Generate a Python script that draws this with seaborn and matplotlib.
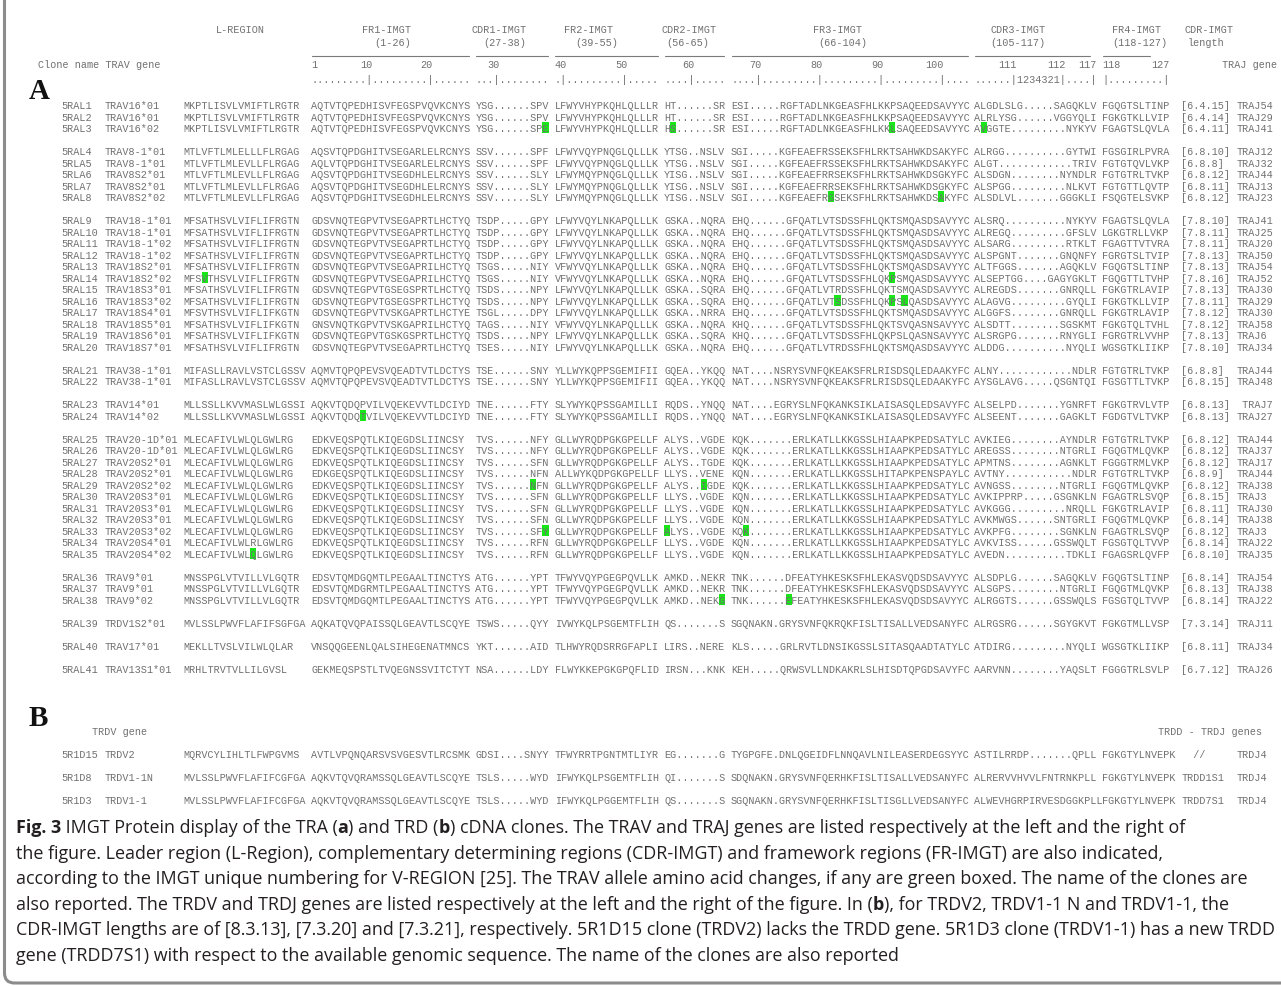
import numpy as np
import pandas as pd
import seaborn as sns
import matplotlib.pyplot as plt
from matplotlib.patches import Rectangle, FancyBboxPatch

# ---------------- data: section A (TRA clones) ----------------
clones_a = ["5RAL1", "5RAL2", "5RAL3", "5RAL4", "5RLA5", "5RLA6", "5RLA7", "5RAL8",
            "5RAL9", "5RAL10", "5RAL11", "5RAL12", "5RAL13", "5RAL14", "5RAL15", "5RAL16",
            "5RAL17", "5RAL18", "5RAL19", "5RAL20", "5RAL21", "5RAL22", "5RAL23", "5RAL24",
            "5RAL25", "5RAL26", "5RAL27", "5RAL28", "5RAL29", "5RAL30", "5RAL31", "5RAL32",
            "5RAL33", "5RAL34", "5RAL35", "5RAL36", "5RAL37", "5RAL38", "5RAL39", "5RAL40",
            "5RAL41"]
trav = ["TRAV16*01", "TRAV16*01", "TRAV16*02", "TRAV8-1*01", "TRAV8-1*01", "TRAV8S2*01",
        "TRAV8S2*01", "TRAV8S2*02", "TRAV18-1*01", "TRAV18-1*01", "TRAV18-1*02", "TRAV18-1*02",
        "TRAV18S2*01", "TRAV18S2*02", "TRAV18S3*01", "TRAV18S3*02", "TRAV18S4*01", "TRAV18S5*01",
        "TRAV18S6*01", "TRAV18S7*01", "TRAV38-1*01", "TRAV38-1*01", "TRAV14*01", "TRAV14*02",
        "TRAV20-1D*01", "TRAV20-1D*01", "TRAV20S2*01", "TRAV20S2*01", "TRAV20S2*02", "TRAV20S3*01",
        "TRAV20S3*01", "TRAV20S3*01", "TRAV20S3*02", "TRAV20S4*01", "TRAV20S4*02", "TRAV9*01",
        "TRAV9*01", "TRAV9*02", "TRDV1S2*01", "TRAV17*01", "TRAV13S1*01"]
l_region = ["MKPTLISVLVMIFTLRGTR"] * 3 + ["MTLVFTLMLELLLFLRGAG"] + ["MTLVFTLMLEVLLFLRGAG"] * 4 + \
    ["MFSATHSVLVIFLIFRGTN"] * 5 + ["MFSVTHSVLVIFLIFRGTN", "MFSATHSVLVIFLIFRGTN", "MFSATHSVLVIFLIFRGTN",
     "MFSVTHSVLVIFLIFKGTN", "MFSATHSVLVIFLIFKGTN", "MFSATHSVLVIFLIFKGTN", "MFSATHSVLVIFLIFRGTN"] + \
    ["MIFASLLRAVLVSTCLGSSV"] * 2 + ["MLLSSLLKVVMASLWLGSSI"] * 2 + ["MLECAFIVLWLQLGWLRG"] * 9 + \
    ["MLECAFIVLWLRLGWLRG", "MLECAFIVLWLQLGWLRG"] + ["MNSSPGLVTVILLVLGQTR"] * 3 + \
    ["MVLSSLPWVFLAFIFSGFGA", "MEKLLTVSLVILWLQLAR", "MRHLTRVTVLLILGVSL"]
fr1 = ["AQTVTQPEDHISVFEGSPVQVKCNYS"] * 3 + \
    ["AQSVTQPDGHITVSEGARLELRCNYS", "AQLVTQPDGHITVSEGARLELRCNYS"] + ["AQSVTQPDGHITVSEGDHLELRCNYS"] * 3 + \
    ["GDSVNQTEGPVTVSEGAPRTLHCTYQ"] * 4 + ["GDSVNQTEGPVTVSEGAPRILHCTYQ"] * 2 + \
    ["GDSVNQTEGPVTGSEGSPRTLHCTYQ"] * 2 + ["GDSVNQTEGPVTVSKGAPRTLHCTYE", "GNSVNQTKGPVTVSKGAPRILHCTYQ",
     "GDSVNQTEGPVTGSKGSPRTLHCTYQ", "GDSVNQTEGPVTVSEGAPRTLHCTYQ"] + \
    ["AQMVTQPQPEVSVQEADTVTLDCTYS"] * 2 + ["AQKVTQDQPVILVQEKEVVTLDCIYD", "AQKVTQDQTVILVQEKEVVTLDCIYD"] + \
    ["EDKVEQSPQTLKIQEGDSLIINCSY"] * 3 + ["EDKGEQSPQTLKIQEGDSLIINCSY"] + ["EDKVEQSPQTLKIQEGDSLIINCSY"] * 7 + \
    ["EDSVTQMDGQMTLPEGAALTINCTYS", "EDSVTQMDGRMTLPEGAALTINCTYS", "EDSVTQMDGQMTLPEGAALTINCTYS",
     "AQKATQVQPAISSQLGEAVTLSCQYE", "VNSQQGEENLQALSIHEGENATMNCS", "GEKMEQSPSTLTVQEGNSSVITCTYT"]
cdr1 = ["YSG.SPV", "YSG.SPV", "YSG.SPE", "SSV.SPF", "SSV.SPF", "SSV.SLY", "SSV.SLY", "SSV.SLY",
        "TSDP.GPY", "TSDP.GPY", "TSDP.GPY", "TSDP.GPY", "TSGS.NIY", "TSGS.NIY", "TSDS.NPY", "TSDS.NPY",
        "TSGL.DPY", "TAGS.NIY", "TSDS.NPY", "TSES.NIY", "TSE.SNY", "TSE.SNY", "TNE.FTY", "TNE.FTY",
        "TVS.NFY", "TVS.NFY", "TVS.SFN", "TVS.NFN", "TVS.NFN", "TVS.SFN", "TVS.SFN", "TVS.SFN",
        "TVS.SFY", "TVS.RFN", "TVS.RFN", "ATG.YPT", "ATG.YPT", "ATG.YPT", "TSWS.QYY", "YKT.AID",
        "NSA.LDY"]
fr2 = ["LFWYVHYPKQHLQLLLR"] * 3 + ["LFWYVQYPNQGLQLLLK"] * 2 + ["LFWYMQYPNQGLQLLLK"] * 3 + \
    ["LFWYVQYLNKAPQLLLK"] * 4 + ["VFWYVQYLNKAPQLLLK"] * 2 + ["LFWYVQYLNKAPQLLLK"] * 3 + \
    ["VFWYVQYLNKAPQLLLK"] + ["LFWYVQYLNKAPQLLLK"] * 2 + ["YLLWYKQPPSGEMIFII"] * 2 + \
    ["SLYWYKQPSSGAMILLI"] * 2 + ["GLLWYRQDPGKGPELLF"] * 3 + ["ALLWYKQDPGKGPELLF"] + \
    ["GLLWYRQDPGKGPELLF"] * 7 + ["TFWYVQYPGEGPQVLLK"] * 3 + \
    ["IVWYKQLPSGEMTFLIH", "TLHWYRQDSRRGFAPLI", "FLWYKKEPGKGPQFLID"]
cdr2 = ["HT.SR", "HT.SR", "HS.SR", "YTSG.NSLV", "YTSG.NSLV", "YISG.NSLV", "YISG.NSLV", "YISG.NSLV",
        "GSKA.NQRA", "GSKA.NQRA", "GSKA.NQRA", "GSKA.NQRA", "GSKA.NQRA", "GSKA.NQRA", "GSKA.SQRA",
        "GSKA.SQRA", "GSKA.NRRA", "GSKA.NQRA", "GSKA.SQRA", "GSKA.NQRA", "GQEA.YKQQ", "GQEA.YKQQ",
        "RQDS.YNQQ", "RQDS.YNQQ", "ALYS.VGDE", "ALYS.VGDE", "ALYS.TGDE", "LLYS.VENE", "ALYS.IGDE",
        "LLYS.VGDE", "LLYS.VGDE", "LLYS.VGDE", "ALYS.VGDE", "LLYS.VGDE", "LLYS.VGDE", "AMKD.NEKR",
        "AMKD.NEKR", "AMKD.NEKG", "QS.S", "LIRS.NERE", "IRSN.KNK"]
fr3 = ["ESI.RGFTADLNKGEASFHLKKPSAQEEDSAVYYC"] * 2 + ["ESI.RGFTADLNKGEASFHLKKLSAQEEDSAVYYC"] + \
    ["SGI.KGFEAEFRSSEKSFHLRKTSAHWKDSAKYFC"] * 2 + ["SGI.KGFEAEFRRSEKSFHLRKTSAHWKDSGKYFC"] * 2 + \
    ["SGI.KGFEAEFRGSEKSFHLRKTSAHWKDSAKYFC"] + ["EHQ.GFQATLVTSDSSFHLQKTSMQASDSAVYYC"] * 5 + \
    ["EHQ.GFQATLVTSDSSFHLQKPSMQASDSAVYYC", "EHQ.GFQATLVTRDSSFHLQKTSMQASDSAVYYC",
     "EHQ.GFQATLVTSDSSFHLQKPSLQASDSAVYYC", "EHQ.GFQATLVTSDSSFHLQKTSMQASDSAVYYC",
     "KHQ.GFQATLVTSDSSFHLQKTSVQASNSAVYYC", "KHQ.GFQATLVTSDSSFHLQKPSLQASNSAVYYC",
     "EHQ.GFQATLVTRDSSFHLQKTSMQASDSAVYYC"] + \
    ["NAT.NSRYSVNFQKEAKSFRLRISDSQLEDAAKYFC"] * 2 + ["NAT.EGRYSLNFQKANKSIKLAISASQLEDSAVYFC"] * 2 + \
    ["KQK.ERLKATLLKKGSSLHIAAPKPEDSATYLC"] * 3 + ["KQN.ERLKATLLKKGSSLHITAPKPENSPAYLC"] + \
    ["KQK.ERLKATLLKKGSSLHIAAPKPEDSATYLC"] + ["KQN.ERLKATLLKKGSSLHIAAPKPEDSATYLC"] * 3 + \
    ["KQK.ERLKATLLKKGSSLHIAAPKPEDSATYLC"] + ["KQN.ERLKATLLKKGSSLHIAAPKPEDSATYLC"] * 2 + \
    ["TNK.DFEATYHKESKSFHLEKASVQDSDSAVYYC"] * 2 + ["TNK.EFEATYHKESKSFHLEKASVQDSDSAVYYC",
     "SGQNAKN.GRYSVNFQKRQKFISLTISALLVEDSANYFC", "KLS.GRLRVTLDNSIKGSSLSITASQAADTATYLC",
     "KEH.QRWSVLLNDKAKRLSLHISDTQPGDSAVYFC"]
cdr3 = ["ALGDLSLG.SAGQKLV", "ALRLYSG.VGGYQLI", "AVGGTE.NYKYV", "ALRGG.GYTWI", "ALGT.TRIV",
        "ALSDGN.NYNDLR", "ALSPGG.NLKVT", "ALSDLVL.GGGKLI", "ALSRQ.NYKYV", "ALREGQ.GFSLV",
        "ALSARG.RTKLT", "ALSPGNT.GNQNFY", "ALTFGGS.AGQKLV", "ALSEPTGG.GAGYGKLT", "ALREGDS.GNRQLL",
        "ALAGVG.GYQLI", "ALGGFS.GNRQLL", "ALSDTT.SGSKMT", "ALSRGPG.RNYGLI", "ALDDG.NYQLI",
        "ALNY.NDLR", "AYSGLAVG.QSGNTQI", "ALSELPD.YGNRFT", "ALSEENT.GAGKLT", "AVKIEG.AYNDLR",
        "AREGSS.NTGRLI", "APMTNS.AGNKLT", "AVTNY.NDLR", "AVNGSS.NTGRLI", "AVKIPPRP.GSGNKLN",
        "AVKGGG.NRQLL", "AVKMWGS.SNTGRLI", "AVKPFG.SGNKLN", "AVKVISS.GSSWQLT", "AVEDN.TDKLI",
        "ALSDPLG.SAGQKLV", "ALSGPS.NTGRLI", "ALRGGTS.GSSWQLS", "ALRGSRG.SGYGKVT", "ATDIRG.NYQLI",
        "AARVNN.YAQSLT"]
fr4 = ["FGQGTSLTINP", "FGKGTKLLVIP", "FGAGTSLQVLA", "FGSGIRLPVRA", "FGTGTQVLVKP", "FGTGTRLTVKP",
       "FGTGTTLQVTP", "FSQGTELSVKP", "FGAGTSLQVLA", "LGKGTRLLVKP", "FGAGTTVTVRA", "FGRGTSLTVIP",
       "FGQGTSLTINP", "FGQGTTLTVHP", "FGKGTRLAVIP", "FGKGTKLLVIP", "FGKGTRLAVIP", "FGKGTQLTVHL",
       "FGRGTRLVVHP", "WGSGTKLIIKP", "FGTGTRLTVKP", "FGSGTTLTVKP", "FGKGTRVLVTP", "FGDGTVLTVKP",
       "FGTGTRLTVKP", "FGQGTMLQVKP", "FGGGTRMLVKP", "FGTGTRLTVKP", "FGQGTMLQVKP", "FGAGTRLSVQP",
       "FGKGTRLAVIP", "FGQGTMLQVKP", "FGAGTRLSVQP", "FGSGTQLTVVP", "FGAGSRLQVFP", "FGQGTSLTINP",
       "FGQGTMLQVKP", "FGSGTQLTVVP", "FGKGTMLLVSP", "WGSGTKLIIKP", "FGGGTRLSVLP"]
cdr_len = ["6.4.15", "6.4.14", "6.4.11", "6.8.10", "6.8.8", "6.8.12", "6.8.11", "6.8.12", "7.8.10",
           "7.8.11", "7.8.11", "7.8.13", "7.8.13", "7.8.16", "7.8.13", "7.8.11", "7.8.12", "7.8.12",
           "7.8.13", "7.8.10", "6.8.8", "6.8.15", "6.8.13", "6.8.13", "6.8.12", "6.8.12", "6.8.12",
           "6.8.9", "6.8.12", "6.8.15", "6.8.11", "6.8.14", "6.8.12", "6.8.14", "6.8.10", "6.8.14",
           "6.8.13", "6.8.14", "7.3.14", "6.8.11", "6.7.12"]
traj = ["TRAJ54", "TRAJ29", "TRAJ41", "TRAJ12", "TRAJ32", "TRAJ44", "TRAJ13", "TRAJ23", "TRAJ41",
        "TRAJ25", "TRAJ20", "TRAJ50", "TRAJ54", "TRAJ52", "TRAJ30", "TRAJ29", "TRAJ30", "TRAJ58",
        "TRAJ6", "TRAJ34", "TRAJ44", "TRAJ48", " TRAJ7", "TRAJ27", "TRAJ44", "TRAJ37", "TRAJ17",
        "TRAJ44", "TRAJ38", "TRAJ3", "TRAJ30", "TRAJ38", "TRAJ3", "TRAJ22", "TRAJ35", "TRAJ54",
        "TRAJ38", "TRAJ22", "TRAJ11", "TRAJ34", "TRAJ26"]
groups_a = [3, 5, 12, 2, 2, 11, 3, 1, 1, 1]

# green boxed allele changes: (clone, region, residue index)
changes = [("5RAL3", "cdr1", 11), ("5RAL3", "cdr2", 1), ("5RAL3", "fr3", 26), ("5RAL3", "cdr3", 1),
           ("5RAL8", "fr3", 16), ("5RAL8", "fr3", 34), ("5RAL14", "lreg", 3), ("5RAL14", "fr3", 26),
           ("5RAL16", "fr3", 17), ("5RAL16", "fr3", 26), ("5RAL16", "fr3", 28), ("5RAL24", "fr1", 8),
           ("5RAL29", "cdr1", 9), ("5RAL29", "cdr2", 6), ("5RAL33", "cdr1", 11), ("5RAL33", "cdr2", 0),
           ("5RAL33", "fr3", 2), ("5RAL35", "lreg", 11), ("5RAL38", "cdr2", 9), ("5RAL38", "fr3", 9)]

# ---------------- data: section B (TRD clones) ----------------
clones_b = ["5R1D15", "5R1D8", "5R1D3"]
trdv = ["TRDV2", "TRDV1-1N", "TRDV1-1"]
l_region_b = ["MQRVCYLIHLTLFWPGVMS", "MVLSSLPWVFLAFIFCGFGA", "MVLSSLPWVFLAFIFCGFGA"]
fr1_b = ["AVTLVPQNQARSVSVGESVTLRCSMK", "AQKVTQVQRAMSSQLGEAVTLSCQYE", "AQKVTQVQRAMSSQLGEAVTLSCQYE"]
cdr1_b = ["GDSI.SNYY", "TSLS.WYD", "TSLS.WYD"]
fr2_b = ["TFWYRRTPGNTMTLIYR", "IFWYKQLPSGEMTFLIH", "IFWYKQLPGGEMTFLIH"]
cdr2_b = ["EG.G", "QI.S", "QS.S"]
fr3_b = ["TYGPGFE.DNLQGEIDFLNNQAVLNILEASERDEGSYYC", "SDQNAKN.GRYSVNFQERHKFISLTISALLVEDSANYFC",
         "SGQNAKN.GRYSVNFQERHKFISLTISGLLVEDSANYFC"]
cdr3_b = ["ASTILRRDP.QPLL", "ALRERVVHVVLFNTRNKPLL", "ALWEVHGRPIRVESDGGKPLL"]
fr4_b = ["FGKGTYLNVEPK"] * 3
trdd = ["  //", "TRDD1S1", "TRDD7S1"]
trdj = ["TRDJ4"] * 3

# ---------------- ruler / header text ----------------
region_names = ["FR1-IMGT", "CDR1-IMGT", "FR2-IMGT", "CDR2-IMGT", "FR3-IMGT", "CDR3-IMGT", "FR4-IMGT"]
region_ranges = ["(1-26)", "(27-38)", "(39-55)", "(56-65)", "(66-104)", "(105-117)", "(118-127)"]
ruler_dots = [".........|.........|......", "...|........", ".|.........|.....", "....|.....",
              "....|.........|.........|.........|....", "......|1234321|....|", "|.........|"]
ruler_nums = [[("1", 0), ("10", 9), ("20", 19)], [("30", 3)], [("40", 1), ("50", 11)], [("60", 4)],
              [("70", 4), ("80", 14), ("90", 24), ("100", 34)], [("111", 6), ("112", 14), ("117", 19)],
              [("118", 0), ("127", 10)]]

caption = [
    [("Fig. 3", True), (" IMGT Protein display of the TRA (", False), ("a", True), (") and TRD (", False),
     ("b", True), (") cDNA clones. The TRAV and TRAJ genes are listed respectively at the left and the right of", False)],
    [("the figure. Leader region (L-Region), complementary determining regions (CDR-IMGT) and framework regions (FR-IMGT) are also indicated,", False)],
    [("according to the IMGT unique numbering for V-REGION [25]. The TRAV allele amino acid changes, if any are green boxed. The name of the clones are", False)],
    [("also reported. The TRDV and TRDJ genes are listed respectively at the left and the right of the figure. In (", False), ("b", True),
     ("), for TRDV2, TRDV1-1 N and TRDV1-1, the", False)],
    [("CDR-IMGT lengths are of [8.3.13], [7.3.20] and [7.3.21], respectively. 5R1D15 clone (TRDV2) lacks the TRDD gene. 5R1D3 clone (TRDV1-1) has a new TRDD", False)],
    [("gene (TRDD7S1) with respect to the available genomic sequence. The name of the clones are also reported", False)],
]

# ---------------- layout ----------------
W, H = 1281, 987
X0, CW = 61.7, 6.085                   # first column x and monospace char width (px)
COLS = dict(clone=0, gene=7, lreg=20, fr1=41, cdr1=68, fr2=81, cdr2=99, fr3=110,
            cdr3=150, fr4=171, len=184, traj=193)
REGION_COLS = ["fr1", "cdr1", "fr2", "cdr2", "fr3", "cdr3", "fr4"]
UNDERLINE = [26, 12, 17, 10, 39, 19, 8]
NAME_COL = [49.3, 67.4, 82.6, 98.5, 123.5, 152.6, 172.6]
RANGE_COL = [51.4, 69.3, 84.4, 99.4, 124.3, 152.6, 172.6]
SEQ_COLOR = "#707070"
GREEN = "#19e619"
MONO = "Liberation Mono"
MONO_SIZE = CW / 0.6 * 72 / 100
CAP_FONT = "Open Sans"
CAP_X, CAP_RIGHT = 15.5, 1272


def expand(s, width):
    """Widen the first run of gap dots so the segment fills its IMGT width."""
    if "." not in s or len(s) >= width:
        return s
    i = s.index(".")
    j = i
    while j < len(s) and s[j] == ".":
        j += 1
    return s[:i] + "." * (width - len(s) + (j - i)) + s[j:]


def xcol(c):
    return X0 + c * CW


sns.set_theme(style="white")
plt.rcParams['font.family'] = ['DejaVu Sans']

fig = plt.figure(figsize=(W / 100, H / 100), dpi=100)
ax = fig.add_axes([0, 0, 1, 1])
ax.set_xlim(0, W)
ax.set_ylim(H, 0)
ax.axis("off")


def mono(x, y, s, **kw):
    ax.text(x, y + 3.4, s, family=MONO, fontsize=MONO_SIZE, color=SEQ_COLOR, va="baseline", **kw)


# frame round the whole figure (only left/bottom edges fall inside the canvas)
ax.add_patch(FancyBboxPatch((4.5, -40), W + 60, 40 + 984, boxstyle="round,pad=0,rounding_size=10",
                            fill=False, edgecolor="#8c8c8c", linewidth=2.2, zorder=5))

# header
mono(xcol(25.4), 30, "L-REGION")
for k, rc in enumerate(REGION_COLS):
    mono(xcol(NAME_COL[k]), 30, region_names[k])
    mono(xcol(RANGE_COL[k]), 43, region_ranges[k])
    start = COLS[rc]
    ax.plot([xcol(start) + 0.5, xcol(start + UNDERLINE[k]) - 0.5], [57, 57], color="#7a7a7a", lw=0.8)
    mono(xcol(start), 80, ruler_dots[k])
    for lab, idx in ruler_nums[k]:
        if idx == 0:
            mono(xcol(start), 65, lab)
        else:
            mono(xcol(start + idx + 1), 65, lab, ha="right")
mono(xcol(184.6), 30, "CDR-IMGT")
mono(xcol(185), 43, "length")
mono(xcol(-3.9), 65, "Clone name TRAV gene")
mono(xcol(199.7), 65, "TRAJ gene", ha="right")

ax.text(29, 99, "A", family="Liberation Serif", fontweight="bold", fontsize=21, color="#111111")
ax.text(29, 726, "B", family="Liberation Serif", fontweight="bold", fontsize=21, color="#111111")

# section A rows
rows_y = []
slot = 0
for g in groups_a:
    rows_y += [105.7 + (slot + i) * 11.5 for i in range(g)]
    slot += g + 1

table_a = pd.DataFrame(dict(clone=clones_a, gene=trav, lreg=l_region, fr1=fr1,
                            cdr1=[expand(s, 12) for s in cdr1], fr2=fr2,
                            cdr2=[expand(s, 10) for s in cdr2], fr3=[expand(s, 39) for s in fr3],
                            cdr3=[expand(s, 20) for s in cdr3], fr4=fr4,
                            len=["[" + s + "]" for s in cdr_len], traj=traj, y=rows_y))

row_y = dict(zip(table_a.clone, table_a.y))
for clone, region, idx in changes:
    ax.add_patch(Rectangle((xcol(COLS[region] + idx), row_y[clone] - 5.6), CW, 11.2,
                           facecolor=GREEN, edgecolor="none", zorder=1))

for _, r in table_a.iterrows():
    for col in COLS:
        mono(xcol(COLS[col]), r.y, r[col], zorder=3)

# section B rows
mono(xcol(5), 732, "TRDV gene")
mono(xcol(197.3), 732, "TRDD - TRDJ genes", ha="right")
table_b = pd.DataFrame(dict(clone=clones_b, gene=trdv, lreg=l_region_b, fr1=fr1_b,
                            cdr1=[expand(s, 12) for s in cdr1_b], fr2=fr2_b,
                            cdr2=[expand(s, 10) for s in cdr2_b], fr3=[expand(s, 39) for s in fr3_b],
                            cdr3=[expand(s, 20) for s in cdr3_b], fr4=fr4_b, len=trdd, traj=trdj,
                            y=[755.0, 777.7, 800.4]))
for _, r in table_b.iterrows():
    for col in COLS:
        c = COLS[col]
        if col == "fr4" and len(r.cdr3) > 20:
            c = COLS["cdr3"] + len(r.cdr3)
        mono(xcol(c), r.y, r[col], zorder=3)

# caption with bold runs
renderer = fig.canvas.get_renderer()


def run_width(s, bold, size):
    t1 = ax.text(0, 0, "|" + s + "|", family=CAP_FONT, fontsize=size,
                 fontweight="bold" if bold else "normal")
    t2 = ax.text(0, 0, "||", family=CAP_FONT, fontsize=size,
                 fontweight="bold" if bold else "normal")
    w = t1.get_window_extent(renderer).width - t2.get_window_extent(renderer).width
    t1.remove()
    t2.remove()
    return w


# size the caption so its longest line fits the frame
base = 13.0
longest = max(sum(run_width(s, b, base) for s, b in line) for line in caption)
cap_size = base * (CAP_RIGHT - CAP_X) / longest

for i, line in enumerate(caption):
    x = CAP_X
    y = 833 + i * 25.6
    for s, bold in line:
        ax.text(x, y, s, family=CAP_FONT, fontsize=cap_size, color="#231f20",
                fontweight="bold" if bold else "normal", va="baseline")
        x += run_width(s, bold, cap_size)

fig.savefig("out.png", dpi=100)
